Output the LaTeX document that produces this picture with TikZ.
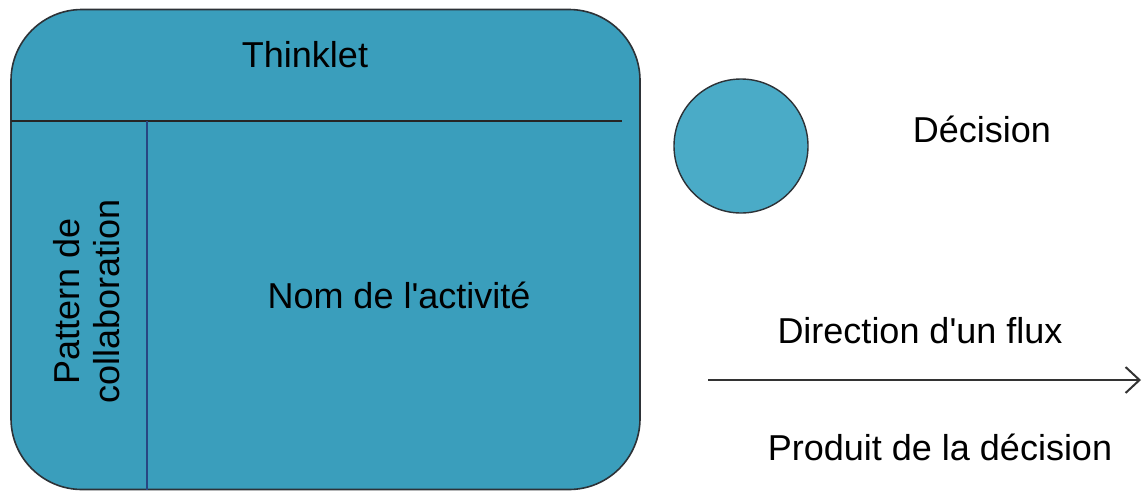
\documentclass[tikz,border=0pt]{standalone}
\usepackage{fontspec}
\setmainfont{Liberation Sans}
\usetikzlibrary{arrows.meta}

\definecolor{boxfill}{RGB}{58,158,188}
\definecolor{decfill}{RGB}{74,171,199}
\definecolor{edgegray}{RGB}{45,50,55}
\definecolor{coldark}{RGB}{40,70,130}

\begin{document}
\begin{tikzpicture}[x=1pt,y=-1pt,font=\fontsize{36}{40}\selectfont]
   \useasboundingbox (0,0) rectangle (1142,491);
   \node (thinklet) at (325.5,249.5) [draw=edgegray,line width=1.6pt,fill=boxfill,rounded corners=71pt,minimum width=629pt,minimum height=480pt,inner sep=0pt] {};
   \node (decision) at (741,146) [circle,draw=edgegray,line width=1.4pt,fill=decfill,minimum size=134pt,inner sep=0pt] {};
   \coordinate (sepL) at (11,121);
   \coordinate (sepR) at (622,121);
   \coordinate (colT) at (147,121);
   \coordinate (colB) at (147,490);
   \coordinate (flowA) at (708,380);
   \coordinate (flowB) at (1141,380);
   \draw[line width=2pt,draw=black!85] (sepL) to (sepR);
   \draw[line width=1.4pt,draw=coldark] (colT) to (colB);
   \draw[line width=2.2pt,draw=black!80,-{Straight Barb[length=14pt,width=26pt,line width=2pt]}] (flowA) to (flowB);
   \node (titlelbl) at (305,67) [anchor=base] {Thinklet};
   \node (patternlbl) at (87,301) [rotate=90,align=center,inner sep=0pt] {Pattern de\\collaboration};
   \node (activitylbl) at (399,308) [anchor=base] {Nom de l\textquotesingle activité};
   \node (decisionlbl) at (982,142) [anchor=base] {Décision};
   \node (flowlbl) at (920,343) [anchor=base] {Direction d\textquotesingle un flux};
   \node (productlbl) at (940,460) [anchor=base] {Produit de la décision};
\end{tikzpicture}
\end{document}
